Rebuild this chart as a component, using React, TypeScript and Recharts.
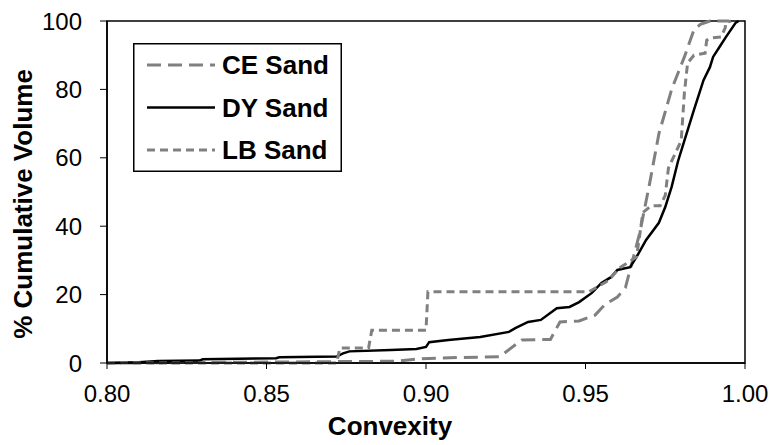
import React from "react";
import {
  LineChart,
  Line,
  XAxis,
  YAxis,
  Legend,
  ReferenceArea,
  Label,
} from "recharts";

// [convexity, % cumulative volume]
const ceSand: [number, number][] = [
  [0.8, 0], [0.84, 0.2], [0.87, 0.4], [0.89, 0.5], [0.898, 1.2], [0.91, 1.6],
  [0.923, 1.8], [0.93, 6.7], [0.939, 6.9], [0.942, 12.0], [0.948, 12.3],
  [0.953, 14.0], [0.956, 17.0], [0.96, 19.3], [0.9625, 22.0], [0.967, 38.0],
  [0.97, 52.0], [0.973, 67.0], [0.977, 80.0], [0.981, 89.5], [0.984, 97.4],
  [0.986, 99.0], [0.989, 100], [0.995, 100],
];

const dySand: [number, number][] = [
  [0.8, 0], [0.81, 0.2], [0.816, 0.6], [0.829, 0.7], [0.83, 1.1], [0.853, 1.4],
  [0.854, 1.7], [0.872, 1.9], [0.874, 2.8], [0.876, 3.4], [0.889, 3.8],
  [0.897, 4.1], [0.9, 4.7], [0.901, 6.1], [0.907, 6.7], [0.917, 7.6],
  [0.926, 9.1], [0.928, 10.2], [0.932, 12.0], [0.936, 12.6], [0.941, 16.0],
  [0.945, 16.4], [0.948, 17.8], [0.952, 20.5], [0.955, 23.4], [0.958, 25.1],
  [0.96, 27.2], [0.964, 28.0], [0.966, 31.0], [0.969, 36.0], [0.973, 41.0],
  [0.975, 45.6], [0.977, 51.5], [0.979, 59.0], [0.981, 65.0], [0.984, 74.0],
  [0.987, 82.7], [0.989, 86.5], [0.99, 89.5], [0.992, 92.4], [0.994, 95.3],
  [0.997, 99.4], [0.998, 100],
];

const lbSand: [number, number][] = [
  [0.8, 0], [0.872, 0], [0.873, 4.4], [0.882, 4.4], [0.883, 9.6], [0.9, 9.6],
  [0.9006, 20.8], [0.951, 20.8], [0.957, 24.0], [0.961, 28.0], [0.966, 31.0],
  [0.968, 44.0], [0.9706, 46.0], [0.9734, 46.0], [0.975, 49.0], [0.976, 57.0],
  [0.98, 65.0], [0.981, 79.0], [0.982, 87.7], [0.984, 90.0], [0.9875, 90.6],
  [0.988, 94.4], [0.989, 95.0], [0.9925, 95.3], [0.9938, 98.0], [0.994, 99.5],
  [0.9956, 100],
];

const xTicks = [0.8, 0.85, 0.9, 0.95, 1.0];
const yTicks = [0, 20, 40, 60, 80, 100];

const FONT = "'Liberation Sans', Arial, sans-serif";
const GREY = "#808080";

const series = [
  { name: "CE Sand", points: ceSand, stroke: GREY, dash: "14 7", width: 3 },
  { name: "DY Sand", points: dySand, stroke: "#000", dash: undefined, width: 2.5 },
  { name: "LB Sand", points: lbSand, stroke: GREY, dash: "8 5", width: 3 },
];

const toRows = (pts: [number, number][]) => pts.map(([x, y]) => ({ x, y }));

function LegendBox() {
  return (
    <svg width={209} height={129} style={{ display: "block" }}>
      <rect x={0.75} y={0.75} width={207.5} height={127.5} fill="#fff" stroke="#000" strokeWidth={1.5} />
      {series.map((s, i) => {
        const cy = 22 + i * 42.5;
        return (
          <g key={s.name}>
            <line x1={14} x2={82} y1={cy} y2={cy} stroke={s.stroke} strokeWidth={s.width} strokeDasharray={s.dash} />
            <text x={89} y={cy} dy="0.36em" fontFamily={FONT} fontWeight="bold" fontSize={26} fill="#000">
              {s.name}
            </text>
          </g>
        );
      })}
    </svg>
  );
}

export default function App() {
  return (
    <div style={{ position: "absolute", left: 0, top: 0, background: "#fff" }}>
      <LineChart width={775} height={445} margin={{ top: 21, right: 30, left: 0, bottom: 0 }}>
        <XAxis
          dataKey="x"
          type="number"
          domain={[0.8, 1.0]}
          ticks={xTicks}
          allowDataOverflow
          tickFormatter={(v) => v.toFixed(2)}
          height={82}
          tickSize={6}
          tickMargin={16}
          axisLine={{ stroke: "#000", strokeWidth: 1.5 }}
          tickLine={{ stroke: "#000" }}
          tick={{ fill: "#000", fontSize: 24, fontFamily: FONT }}
        >
          <Label
            content={() => (
              <text x={390} y={435} textAnchor="middle" fontFamily={FONT} fontWeight="bold" fontSize={26} fill="#000">
                Convexity
              </text>
            )}
          />
        </XAxis>
        <YAxis
          type="number"
          domain={[0, 100]}
          ticks={yTicks}
          width={107}
          tickSize={7}
          tickMargin={18}
          axisLine={{ stroke: "#000", strokeWidth: 1.5 }}
          tickLine={{ stroke: "#000" }}
          tick={{ fill: "#000", fontSize: 24, fontFamily: FONT }}
        >
          <Label
            content={() => (
              <text
                x={0}
                y={0}
                transform="translate(32, 204) rotate(-90)"
                textAnchor="middle"
                fontFamily={FONT}
                fontWeight="bold"
                fontSize={26}
                fill="#000"
              >
                % Cumulative Volume
              </text>
            )}
          />
        </YAxis>
        <ReferenceArea
          x1={0.8}
          x2={1.0}
          y1={0}
          y2={100}
          fill="none"
          stroke="#000"
          strokeWidth={1.5}
          ifOverflow="visible"
        />
        {series.map((s) => (
          <Line
            key={s.name}
            data={toRows(s.points)}
            dataKey="y"
            name={s.name}
            type="linear"
            stroke={s.stroke}
            strokeWidth={s.width}
            strokeDasharray={s.dash}
            dot={false}
            isAnimationActive={false}
          />
        ))}
        <Legend
          layout="vertical"
          align="center"
          verticalAlign="middle"
          wrapperStyle={{ left: 133, top: 43, width: 209, height: 129 }}
          content={() => <LegendBox />}
        />
      </LineChart>
    </div>
  );
}
